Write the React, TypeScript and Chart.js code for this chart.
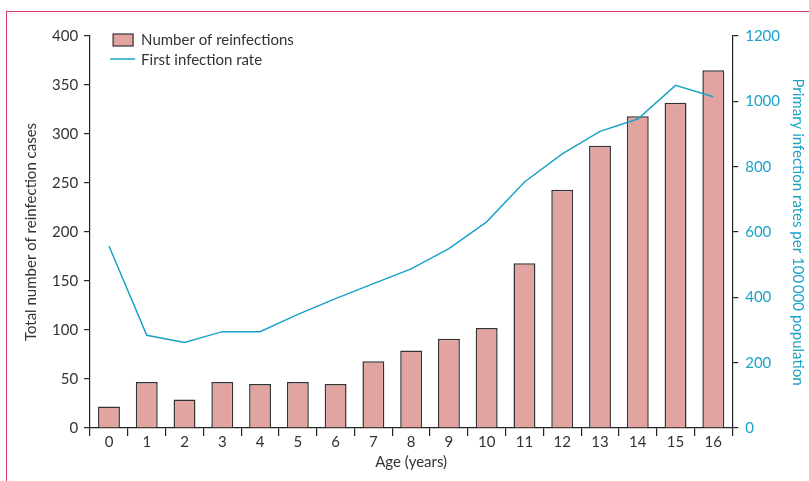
import React, { useEffect, useRef } from "react";
import { Chart, registerables } from "chart.js";

Chart.register(...registerables);

const categories = ["0", "1", "2", "3", "4", "5", "6", "7", "8", "9", "10", "11", "12", "13", "14", "15", "16"];
const reinfections = [22, 47, 29, 47, 45, 47, 45, 68, 79, 91, 102, 168, 243, 288, 318, 332, 365];
const firstInfectionRate = [557, 284, 262, 295, 295, 348, 396, 442, 487, 549, 631, 753, 839, 908, 946, 1049, 1014];
const leftAxisMax = 400;
const leftAxisStep = 50;
const rightAxisMax = 1200;
const rightAxisStep = 200;
const seriesLabels = ["Number of reinfections", "First infection rate"];
const axisTitles = {
  x: "Age (years)",
  left: "Total number of reinfection cases",
  right: "Primary infection rates per 100\u2009000 population",
};

const FONT = "Lato, 'Open Sans', sans-serif";
const FS = 15;
const TEXT = "#333333";
const CYAN = "#1aa3c8";
const BAR_FILL = "#e2a4a1";
const BAR_EDGE = "#333333";
const AXIS = "#222222";

const plainNumber = (v: any) => String(v);

const insideLegend = {
  id: "insideLegend",
  afterDraw(chart: any) {
    const { ctx, chartArea } = chart;
    const x0 = chartArea.left + 23;
    const y0 = chartArea.top;
    ctx.save();
    ctx.fillStyle = BAR_FILL;
    ctx.strokeStyle = BAR_EDGE;
    ctx.lineWidth = 1.2;
    ctx.fillRect(x0, y0 - 2, 20, 12);
    ctx.strokeRect(x0, y0 - 2, 20, 12);
    ctx.strokeStyle = CYAN;
    ctx.lineWidth = 1.5;
    ctx.beginPath();
    ctx.moveTo(x0 - 3, y0 + 23);
    ctx.lineTo(x0 + 22, y0 + 23);
    ctx.stroke();
    ctx.fillStyle = TEXT;
    ctx.font = `${FS}px ${FONT}`;
    ctx.textBaseline = "middle";
    ctx.textAlign = "left";
    ctx.fillText(seriesLabels[0], x0 + 28, y0 + 4);
    ctx.fillText(seriesLabels[1], x0 + 28, y0 + 24);
    ctx.restore();
  },
};

export default function App() {
  const canvasRef = useRef<HTMLCanvasElement | null>(null);

  useEffect(() => {
    if (!canvasRef.current) return;
    const chart = new Chart(canvasRef.current, {
      type: "bar",
      data: {
        labels: categories,
        datasets: [
          {
            type: "line",
            label: seriesLabels[1],
            data: firstInfectionRate,
            borderColor: CYAN,
            backgroundColor: CYAN,
            borderWidth: 1.5,
            pointRadius: 0,
            tension: 0,
            yAxisID: "y1",
            order: 0,
          } as any,
          {
            type: "bar",
            label: seriesLabels[0],
            data: reinfections,
            backgroundColor: BAR_FILL,
            borderColor: BAR_EDGE,
            borderWidth: 1.5,
            barPercentage: 0.58,
            categoryPercentage: 1,
            yAxisID: "y",
            order: 1,
          },
        ],
      },
      options: {
        animation: false,
        responsive: true,
        maintainAspectRatio: false,
        layout: { padding: { left: 18, right: 0, top: 36, bottom: 10 } },
        plugins: {
          legend: { display: false },
          tooltip: { enabled: false },
        },
        scales: {
          x: {
            grid: {
              display: true,
              drawOnChartArea: false,
              drawTicks: true,
              tickLength: 8,
              color: AXIS,
              lineWidth: 1.2,
              offset: true,
            },
            border: { display: true, color: AXIS, width: 1.2 },
            ticks: {
              color: TEXT,
              font: { family: FONT, size: FS },
              padding: -3,
              maxRotation: 0,
            },
            title: {
              display: true,
              text: axisTitles.x,
              color: TEXT,
              font: { family: FONT, size: FS },
              padding: { top: 5, bottom: 0 },
            },
          },
          y: {
            position: "left",
            min: 0,
            max: leftAxisMax,
            grid: {
              display: true,
              drawOnChartArea: false,
              drawTicks: true,
              tickLength: 6,
              color: AXIS,
              lineWidth: 1.2,
            },
            border: { display: true, color: AXIS, width: 1.2 },
            ticks: {
              stepSize: leftAxisStep,
              color: TEXT,
              font: { family: FONT, size: FS },
              padding: 6,
              callback: plainNumber,
            },
            title: {
              display: true,
              text: axisTitles.left,
              color: TEXT,
              font: { family: FONT, size: FS },
              padding: { top: 4, bottom: 6 },
            },
          },
          y1: {
            position: "right",
            min: 0,
            max: rightAxisMax,
            grid: {
              display: true,
              drawOnChartArea: false,
              drawTicks: true,
              tickLength: 6,
              color: AXIS,
              lineWidth: 1.2,
            },
            border: { display: true, color: AXIS, width: 1.2 },
            ticks: {
              stepSize: rightAxisStep,
              color: CYAN,
              font: { family: FONT, size: FS },
              padding: 7,
              callback: plainNumber,
            },
            title: {
              display: true,
              text: axisTitles.right,
              color: CYAN,
              font: { family: FONT, size: FS },
              padding: { top: 2, bottom: 2 },
            },
          },
        },
      },
      plugins: [insideLegend],
    });
    return () => chart.destroy();
  }, []);

  return (
    <div style={{ position: "fixed", left: 0, top: 0, width: 809, height: 481, overflow: "hidden", background: "#fff" }}>
      <div
        style={{
          position: "absolute",
          left: 6,
          top: 11,
          width: 900,
          height: 600,
          borderLeft: "1.5px solid #d8356a",
          borderTop: "1.5px solid #d8356a",
        }}
      />
      <div style={{ position: "absolute", left: 0, top: 0, width: 809, height: 481 }}>
        <canvas ref={canvasRef} />
      </div>
    </div>
  );
}
